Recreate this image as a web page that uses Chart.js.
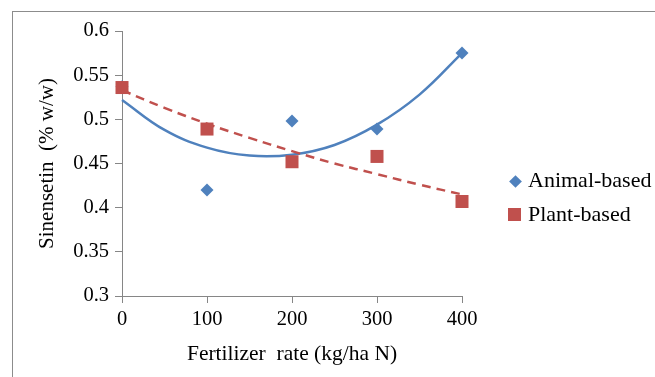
<!DOCTYPE html>
<html>
<head>
<meta charset="utf-8">
<script src="https://cdn.jsdelivr.net/npm/chart.js@4.4.0/dist/chart.umd.min.js"></script>
<style>
  html, body { margin: 0; padding: 0; background: #fff; overflow: hidden; }
  #wrap { position: relative; width: 655px; height: 377px; }
  #frame { position: absolute; left: 12px; top: 11px; width: 700px; height: 420px; border: 1px solid #8c8c8c; }
  #myChart { position: absolute; left: 0; top: 0; }
  .leg { position: absolute; font: 22px "Liberation Serif", "Times New Roman", serif; color: #000; line-height: 24px; white-space: nowrap; }
  .mark { position: absolute; }
</style>
</head>
<body>
<div id="wrap">
  <div id="frame"></div>
  <canvas id="myChart" width="655" height="377"></canvas>
  <div class="mark" style="left:510.5px;top:176.5px;width:9px;height:9px;background:#4f81bd;transform:rotate(45deg)"></div>
  <div class="leg" style="left:528px;top:168px">Animal-based</div>
  <div class="mark" style="left:508px;top:208px;width:13px;height:13px;background:#c0504d"></div>
  <div class="leg" style="left:528px;top:202px">Plant-based</div>
</div>
<script>
// measured points
var rates = [0, 100, 200, 300, 400];
var animalBased = [0.537, 0.420, 0.498, 0.489, 0.575];
var plantBased = [0.536, 0.489, 0.452, 0.458, 0.407];

// trendlines
var trendRates = [0, 50, 100, 150, 200, 250, 300, 350, 400];
var animalTrend = [0.522, 0.488, 0.468, 0.459, 0.460, 0.471, 0.494, 0.528, 0.575];
var plantTrend = [0.533, 0.513, 0.495, 0.479, 0.464, 0.450, 0.438, 0.426, 0.415];

var axisColor = '#868686';
var serif = '"Liberation Serif", "Times New Roman", serif';

function toPoints(xs, ys) {
    var pts = [];
    for (var i = 0; i < xs.length; i++) {
        pts.push({ x: xs[i], y: ys[i] });
    }
    return pts;
}

var dataSource = {
    datasets: [
        {
            label: 'Plant-based',
            data: toPoints(rates, plantBased),
            pointStyle: 'rect',
            pointRadius: 9.2,
            pointHoverRadius: 9.2,
            backgroundColor: '#c0504d',
            borderColor: '#c0504d',
            borderWidth: 0,
            showLine: false,
            clip: false,
            order: 0
        },
        {
            label: 'Animal-based',
            data: toPoints(rates, animalBased),
            pointStyle: 'rectRot',
            pointRadius: 6.5,
            pointHoverRadius: 6.5,
            backgroundColor: '#4f81bd',
            borderColor: '#4f81bd',
            borderWidth: 0,
            showLine: false,
            clip: false,
            order: 1
        },
        {
            label: 'Plant trend',
            data: toPoints(trendRates, plantTrend),
            showLine: true,
            pointRadius: 0,
            borderColor: '#c0504d',
            borderWidth: 2.5,
            borderDash: [9, 6],
            tension: 0.4,
            clip: false,
            order: 2
        },
        {
            label: 'Animal trend',
            data: toPoints(trendRates, animalTrend),
            showLine: true,
            pointRadius: 0,
            borderColor: '#4f81bd',
            borderWidth: 2.5,
            tension: 0.4,
            clip: false,
            order: 3
        }
    ]
};

function createChart() {
    var ctx = document.getElementById('myChart').getContext('2d');
    var myChart = new Chart(ctx, {
        type: 'scatter',
        data: dataSource,
        options: {
            responsive: false,
            animation: false,
            layout: { padding: { left: 0, right: 193, top: 31, bottom: 0 } },
            plugins: { legend: { display: false }, tooltip: { enabled: false } },
            scales: {
                x: {
                    type: 'linear',
                    min: 0,
                    max: 400,
                    afterFit: function (s) { s.height = 81; },
                    border: { color: axisColor, width: 1 },
                    grid: { drawOnChartArea: false, drawTicks: true, tickLength: 7, color: axisColor },
                    ticks: { stepSize: 100, padding: 4, color: '#000', font: { family: serif, size: 20.5 } },
                    title: {
                        display: true,
                        text: 'Fertilizer  rate (kg/ha N)',
                        color: '#000',
                        font: { family: serif, size: 21.5 },
                        padding: { top: 0, bottom: 10 }
                    }
                },
                y: {
                    min: 0.3,
                    max: 0.6,
                    afterFit: function (s) { s.width = 122; },
                    border: { color: axisColor, width: 1 },
                    grid: { drawOnChartArea: false, drawTicks: true, tickLength: 7, color: axisColor },
                    ticks: {
                        stepSize: 0.05,
                        padding: 6,
                        color: '#000',
                        font: { family: serif, size: 20.5 },
                        callback: function (v) { return String(+v.toFixed(2)); }
                    },
                    title: {
                        display: true,
                        text: 'Sinensetin  (% w/w)',
                        color: '#000',
                        font: { family: serif, size: 21 },
                        padding: { top: 35, bottom: 0 }
                    }
                }
            }
        }
    });
}
createChart();
</script>
</body>
</html>
